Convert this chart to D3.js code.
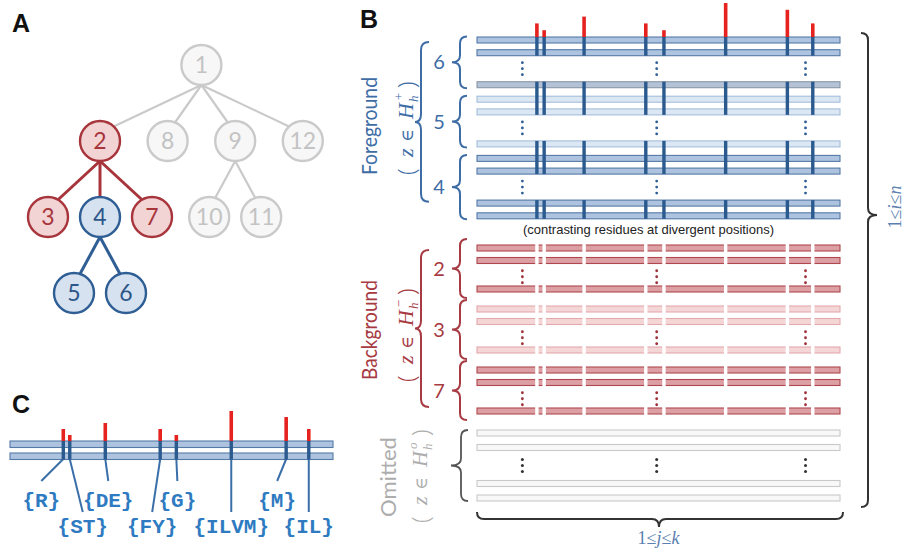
<!DOCTYPE html>
<html><head><meta charset="utf-8">
<script src="https://cdn.jsdelivr.net/npm/d3@7"></script>
<style>html,body{margin:0;padding:0;background:#fff;} svg{display:block;}</style>
</head><body>
<svg id="chart" width="907" height="550"></svg>
<script>
// ================= DATA =================
// Panel A: tree (node id -> parent id) and the partition of nodes
const treeNodes   = ["1","2","3","4","5","6","7","8","9","10","11","12"];
const treeParents = [null,"1","2","2","4","4","2","1","1","9","9","1"];
const foregroundNodes = ["4","5","6"];
const backgroundNodes = ["2","3","7"];

// Panels B / C: alignment columns, divergent positions and their scores
const alignmentLength  = 100;                       // k
const divergentColumns = [17, 19, 30, 47, 52, 69, 86, 93];
const divergenceScores = [0.4, 0.2, 0.6, 0.4, 0.2, 1.0, 0.8, 0.4];
const residueSets      = ["{R}","{ST}","{DE}","{FY}","{G}","{ILVM}","{M}","{IL}"];
const residueLabelRow  = [0,1,0,1,0,1,0,1];
const ellipsisColumns  = [12.5, 49.5, 90.5];

// Sequence groups (subtree label, rows shown before / after the ellipsis, row shades)
const fgGroups = ["6","5","4"];
const fgBefore = [2,2,2];
const fgAfter  = [1,1,2];
const fgShades = [["mid","mid","slate"],["light","light","light"],["mid","mid","mid","mid"]];

const bgGroups = ["2","3","7"];
const bgBefore = [2,2,2];
const bgAfter  = [1,1,1];
const bgShades = [["rmid","rmid","rmid"],["rlight","rlight","rlight"],["rmid","rmid","rmid"]];

const omBefore = [2];
const omAfter  = [2];
const omShades = [["gray","gray","gray","gray"]];

const captionText = "(contrasting residues at divergent positions)";

// ================= STYLE =================
const BLUE_TXT = "#3e6da6", RED_TXT = "#a73a42", GRAY_TXT = "#adadad";
const shadeStyle = {
  mid:   {fill:"#adc3df", stroke:"#557aa6"},
  slate: {fill:"#b3c2d6", stroke:"#8c98a6"},
  light: {fill:"#dce7f4", stroke:"#a4bedc"},
  rmid:  {fill:"#dc9fa3", stroke:"#b0474f"},
  rlight:{fill:"#f5d6d7", stroke:"#e4a9ad"},
  gray:  {fill:"#f8f8f8", stroke:"#c9c9c9"}
};
const DARK_BLUE = "#2b5a8f", SPIKE_RED = "#e5221e";

const svg = d3.select("#chart");

// panel letters
[["A",12,32],["B",360,28],["C",12,413]].forEach(([t,x,y])=>{
  svg.append("text").attr("x",x).attr("y",y).attr("font-family","Liberation Sans, Arial")
    .attr("font-weight","bold").attr("font-size",25).attr("fill","#111").text(t);
});

// ================= PANEL A =================
const gA = svg.append("g");
const root = d3.stratify().id(d=>d.id).parentId(d=>d.parent)(
  treeNodes.map((id,i)=>({id, parent: treeParents[i]})));
d3.tree().nodeSize([52,76]).separation(a => a.depth===1 ? 1.3 : 1)(root);
const anchorNode = root.descendants().find(d=>d.id==="2");
const tx = 100 - anchorNode.x, ty = 65, R = 20;
const cls = id => foregroundNodes.includes(id) ? "fg" : backgroundNodes.includes(id) ? "bg" : "om";
const nodeStyle = {
  fg:{fill:"#d6e2f0", stroke:"#2f5e95", text:"#2c5688"},
  bg:{fill:"#f2d4d5", stroke:"#a8353c", text:"#a8353c"},
  om:{fill:"#f7f7f7", stroke:"#cacaca", text:"#c3c3c3"}
};
gA.selectAll("line.edge").data(root.links()).join("line")
  .attr("x1",d=>d.source.x+tx).attr("y1",d=>d.source.y+ty+R)
  .attr("x2",d=>d.target.x+tx).attr("y2",d=>d.target.y+ty-R*0.4)
  .attr("stroke",d=>nodeStyle[cls(d.source.id)].stroke)
  .attr("stroke-width",d=>cls(d.source.id)==="om"?2.2:3);
const nodeG = gA.selectAll("g.node").data(root.descendants()).join("g")
  .attr("transform",d=>`translate(${d.x+tx},${d.y+ty})`);
nodeG.append("circle").attr("r",R)
  .attr("fill",d=>nodeStyle[cls(d.id)].fill).attr("stroke",d=>nodeStyle[cls(d.id)].stroke)
  .attr("stroke-width",2.4);
nodeG.append("text").attr("text-anchor","middle").attr("y",8)
  .attr("font-family","Lato, Open Sans").attr("font-size",23)
  .attr("fill",d=>nodeStyle[cls(d.id)].text).text(d=>d.id);

// ================= PANEL B =================
const xB = d3.scaleLinear().domain([0, alignmentLength]).range([477, 840]);
const ROW_H = 6;

function layoutSection(start, before, after, shades, pitch, dotGap, groupGap){
  const rows=[], ell=[], spans=[];
  let y=start, cluster=0;
  before.forEach((nb,gi)=>{
    if(gi>0) y+=groupGap;
    const gRows=[]; let k=0;
    for(let i=0;i<nb;i++){ if(i>0) y+=pitch; gRows.push({y, shade:shades[gi][k++], cluster}); }
    const prevBottom=y+ROW_H;
    y+=dotGap; cluster++;
    ell.push({mid:(prevBottom+y)/2});
    for(let i=0;i<after[gi];i++){ if(i>0) y+=pitch; gRows.push({y, shade:shades[gi][k++], cluster}); }
    spans.push({first:gRows[0].y, last:gRows[gRows.length-1].y+ROW_H});
    rows.push(...gRows);
  });
  return {rows, ell, spans};
}
const fg = layoutSection(37, fgBefore, fgAfter, fgShades, 12.7, 32, 14.5);
const bg = layoutSection(245, bgBefore, bgAfter, bgShades, 12.5, 28.5, 20);
const om = layoutSection(430, omBefore, omAfter, omShades, 14.5, 36, 0);

function drawRows(sec){
  svg.append("g").selectAll("rect").data(sec.rows).join("rect")
    .attr("x",xB(0)).attr("width",xB(alignmentLength)-xB(0))
    .attr("y",d=>d.y).attr("height",ROW_H)
    .attr("fill",d=>shadeStyle[d.shade].fill).attr("stroke",d=>shadeStyle[d.shade].stroke)
    .attr("stroke-width",1.1);
}
function drawDots(sec, color, shift, r){
  const g=svg.append("g").attr("fill",color);
  sec.ell.forEach(e=>{
    ellipsisColumns.forEach(c=>{
      [-6,0,6].forEach(o=>g.append("circle").attr("cx",xB(c)).attr("cy",e.mid+shift+o).attr("r",r));
    });
  });
}
drawRows(fg); drawRows(bg); drawRows(om);
drawDots(fg, "#2f5e95", 0, 1.4);
drawDots(bg, "#9e3038", 2, 1.4);
drawDots(om, "#333", 0, 1.5);

// foreground: dark lines through contiguous clusters
const clusters = d3.groups(fg.rows, d=>d.cluster).map(([c,rs])=>({top:d3.min(rs,r=>r.y), bottom:d3.max(rs,r=>r.y)+ROW_H}));
const gLines = svg.append("g");
clusters.forEach(c=>{
  divergentColumns.forEach(col=>{
    gLines.append("line").attr("x1",xB(col-0.5)).attr("x2",xB(col-0.5))
      .attr("y1",c.top).attr("y2",c.bottom).attr("stroke",DARK_BLUE).attr("stroke-width",3.4);
  });
});
// background: white gaps at divergent positions
const bgTop = d3.min(bg.rows,r=>r.y)-1, bgBottom = d3.max(bg.rows,r=>r.y)+ROW_H+1;
divergentColumns.forEach(col=>{
  svg.append("line").attr("x1",xB(col-0.5)).attr("x2",xB(col-0.5))
    .attr("y1",bgTop).attr("y2",bgBottom).attr("stroke","#fff").attr("stroke-width",3.4);
});
// divergence spikes
const spikeB = d3.scaleLinear().domain([0,1]).range([0,34]);
const fgTop = fg.rows[0].y;
svg.append("g").selectAll("line").data(divergentColumns).join("line")
  .attr("x1",d=>xB(d-0.5)).attr("x2",d=>xB(d-0.5))
  .attr("y1",fgTop).attr("y2",(d,i)=>fgTop-spikeB(divergenceScores[i]))
  .attr("stroke",SPIKE_RED).attr("stroke-width",3.6);

// braces
function vBrace(x, y1, y2, tipY, dir, w, t, color, sw){
  const p = `M${x-dir*w},${y1} Q${x},${y1} ${x},${y1+w} L${x},${tipY-w} Q${x},${tipY} ${x+dir*t},${tipY} `+
            `Q${x},${tipY} ${x},${tipY+w} L${x},${y2-w} Q${x},${y2} ${x-dir*w},${y2}`;
  svg.append("path").attr("d",p).attr("fill","none").attr("stroke",color).attr("stroke-width",sw||2);
}
function hBrace(x1, x2, y, tipX, w, t, color){
  const p = `M${x1},${y-w} Q${x1},${y} ${x1+w},${y} L${tipX-w},${y} Q${tipX},${y} ${tipX},${y+t} `+
            `Q${tipX},${y} ${tipX+w},${y} L${x2-w},${y} Q${x2},${y} ${x2},${y-w}`;
  svg.append("path").attr("d",p).attr("fill","none").attr("stroke",color).attr("stroke-width",2);
}
function groupBraces(sec, labels, color, pad){
  sec.spans.forEach((s,i)=>{
    const y1=s.first-pad, y2=s.last+pad, ym=(y1+y2)/2;
    vBrace(460, y1, y2, ym, -1, 7, 8, color, 2);
    if(labels) svg.append("text").attr("x",439).attr("y",ym+7).attr("text-anchor","middle")
      .attr("font-family","Lato, Open Sans").attr("font-size",20).attr("fill",color).text(labels[i]);
  });
}
groupBraces(fg, fgGroups, BLUE_TXT, 0.5);
groupBraces(bg, bgGroups, RED_TXT, 6);
const fgY1 = fg.rows[0].y+5, fgY2 = d3.max(fg.rows,r=>r.y)+ROW_H-17;
vBrace(421, fgY1, fgY2, (fgY1+fgY2)/2, -1, 8, 6, BLUE_TXT, 2);
const bgY1 = bg.rows[0].y+5, bgY2 = d3.max(bg.rows,r=>r.y)+ROW_H-7;
vBrace(421, bgY1, bgY2, (bgY1+bgY2)/2, -1, 8, 6, RED_TXT, 2);
const omY1 = om.rows[0].y, omY2 = d3.max(om.rows,r=>r.y)+ROW_H;
vBrace(461, omY1, omY2, (omY1+omY2)/2, -1, 7, 10, "#555", 1.8);

// rotated labels
function vLabel(text, x, y, len, color){
  svg.append("text").attr("transform",`translate(${x},${y}) rotate(-90)`).attr("text-anchor","middle")
    .attr("font-family","Lato, Open Sans").attr("font-size",22).attr("fill",color)
    .attr("textLength",len).attr("lengthAdjust","spacingAndGlyphs").text(text);
}
vLabel("Foreground", 377, 126, 98, BLUE_TXT);
vLabel("Background", 377, 330, 100, RED_TXT);
vLabel("Omitted", 396, 477, 80, GRAY_TXT);

function formula(x, y, sup, color){
  const g = svg.append("g").attr("transform",`translate(${x},${y}) rotate(-90)`).attr("fill",color);
  const paren = (px, t)=> g.append("text").attr("x",px).attr("y",2).attr("font-family","Open Sans")
     .attr("font-weight",300).attr("font-size",24).text(t);
  paren(-49,"(");
  g.append("text").attr("x",-31).attr("font-family","Liberation Serif").attr("font-style","italic").attr("font-size",22).text("z");
  g.append("text").attr("x",-16).attr("font-family","DejaVu Serif").attr("font-size",17).text("∈");
  g.append("text").attr("x",7).attr("font-family","Liberation Serif").attr("font-style","italic").attr("font-size",22).text("H");
  g.append("text").attr("x",24).attr("y",5).attr("font-family","Liberation Serif").attr("font-style","italic").attr("font-size",13).text("h");
  g.append("text").attr("x",25).attr("y",-10).attr("font-family","Liberation Serif").attr("font-style","italic").attr("font-size",13).text(sup);
  paren(38,")");
}
formula(413, 126, "+", BLUE_TXT);
formula(413, 333, "−", RED_TXT);
formula(427, 474, "o", GRAY_TXT);

// caption
svg.append("text").attr("x",(523+774)/2).attr("y",234).attr("text-anchor","middle")
  .attr("font-family","Liberation Sans, Arial").attr("font-size",13).attr("fill","#222")
  .attr("textLength",251).attr("lengthAdjust","spacingAndGlyphs").text(captionText);

// outer right and bottom braces
vBrace(868, 33, 507, 215, 1, 7, 9, "#333", 2);
hBrace(xB(0), xB(alignmentLength)+3, 519, xB(alignmentLength/2)+0.5, 7, 8, "#333");

const mathFont = "Liberation Serif";
const lblI = svg.append("text").attr("transform","translate(901,207) rotate(-90)").attr("text-anchor","middle")
  .attr("font-family",mathFont).attr("font-size",18).attr("fill","#5a80b0");
lblI.append("tspan").text("1≤");
lblI.append("tspan").attr("font-style","italic").text("i");
lblI.append("tspan").text("≤");
lblI.append("tspan").attr("font-style","italic").text("n");
const lblJ = svg.append("text").attr("x",xB(alignmentLength/2)).attr("y",544).attr("text-anchor","middle")
  .attr("font-family",mathFont).attr("font-size",18).attr("fill","#5a80b0");
lblJ.append("tspan").text("1≤");
lblJ.append("tspan").attr("font-style","italic").text("j");
lblJ.append("tspan").text("≤");
lblJ.append("tspan").attr("font-style","italic").text("k");

// ================= PANEL C =================
const xC = d3.scaleLinear().domain([0, alignmentLength]).range([10, 333]);
const cRows = [441, 453];
svg.append("g").selectAll("rect").data(cRows).join("rect")
  .attr("x",xC(0)).attr("width",xC(alignmentLength)-xC(0)).attr("y",d=>d).attr("height",6.5)
  .attr("fill",shadeStyle.mid.fill).attr("stroke",shadeStyle.mid.stroke).attr("stroke-width",1.1);
const labelShift = [-22, 13, 3, -8, 1, 0, -9, 0];
const labelRowY = [507, 533], lineEndY = [481, 512];
const gC = svg.append("g");
divergentColumns.forEach((col,i)=>{
  const x = xC(col-0.5), lx = x + labelShift[i], row = residueLabelRow[i];
  gC.append("line").attr("x1",x).attr("y1",459).attr("x2",lx).attr("y2",lineEndY[row])
    .attr("stroke","#3b6fa9").attr("stroke-width",2);
  gC.append("line").attr("x1",x).attr("x2",x).attr("y1",cRows[0]).attr("y2",cRows[1]+6.5)
    .attr("stroke",DARK_BLUE).attr("stroke-width",3.4);
});
const spikeC = d3.scaleLinear().domain([0,1]).range([0,30]);
gC.selectAll("line.spike").data(divergentColumns).join("line").attr("class","spike")
  .attr("x1",d=>xC(d-0.5)).attr("x2",d=>xC(d-0.5))
  .attr("y1",cRows[0]).attr("y2",(d,i)=>cRows[0]-spikeC(divergenceScores[i]))
  .attr("stroke",SPIKE_RED).attr("stroke-width",3.6);
gC.selectAll("text.res").data(residueSets).join("text").attr("class","res")
  .attr("x",(d,i)=>xC(divergentColumns[i]-0.5)+labelShift[i])
  .attr("y",(d,i)=>labelRowY[residueLabelRow[i]])
  .attr("text-anchor","middle").attr("font-family","Liberation Mono, DejaVu Sans Mono")
  .attr("font-weight","bold").attr("font-size",21).attr("fill","#2f7bc1").text(d=>d);
</script>
</body></html>
